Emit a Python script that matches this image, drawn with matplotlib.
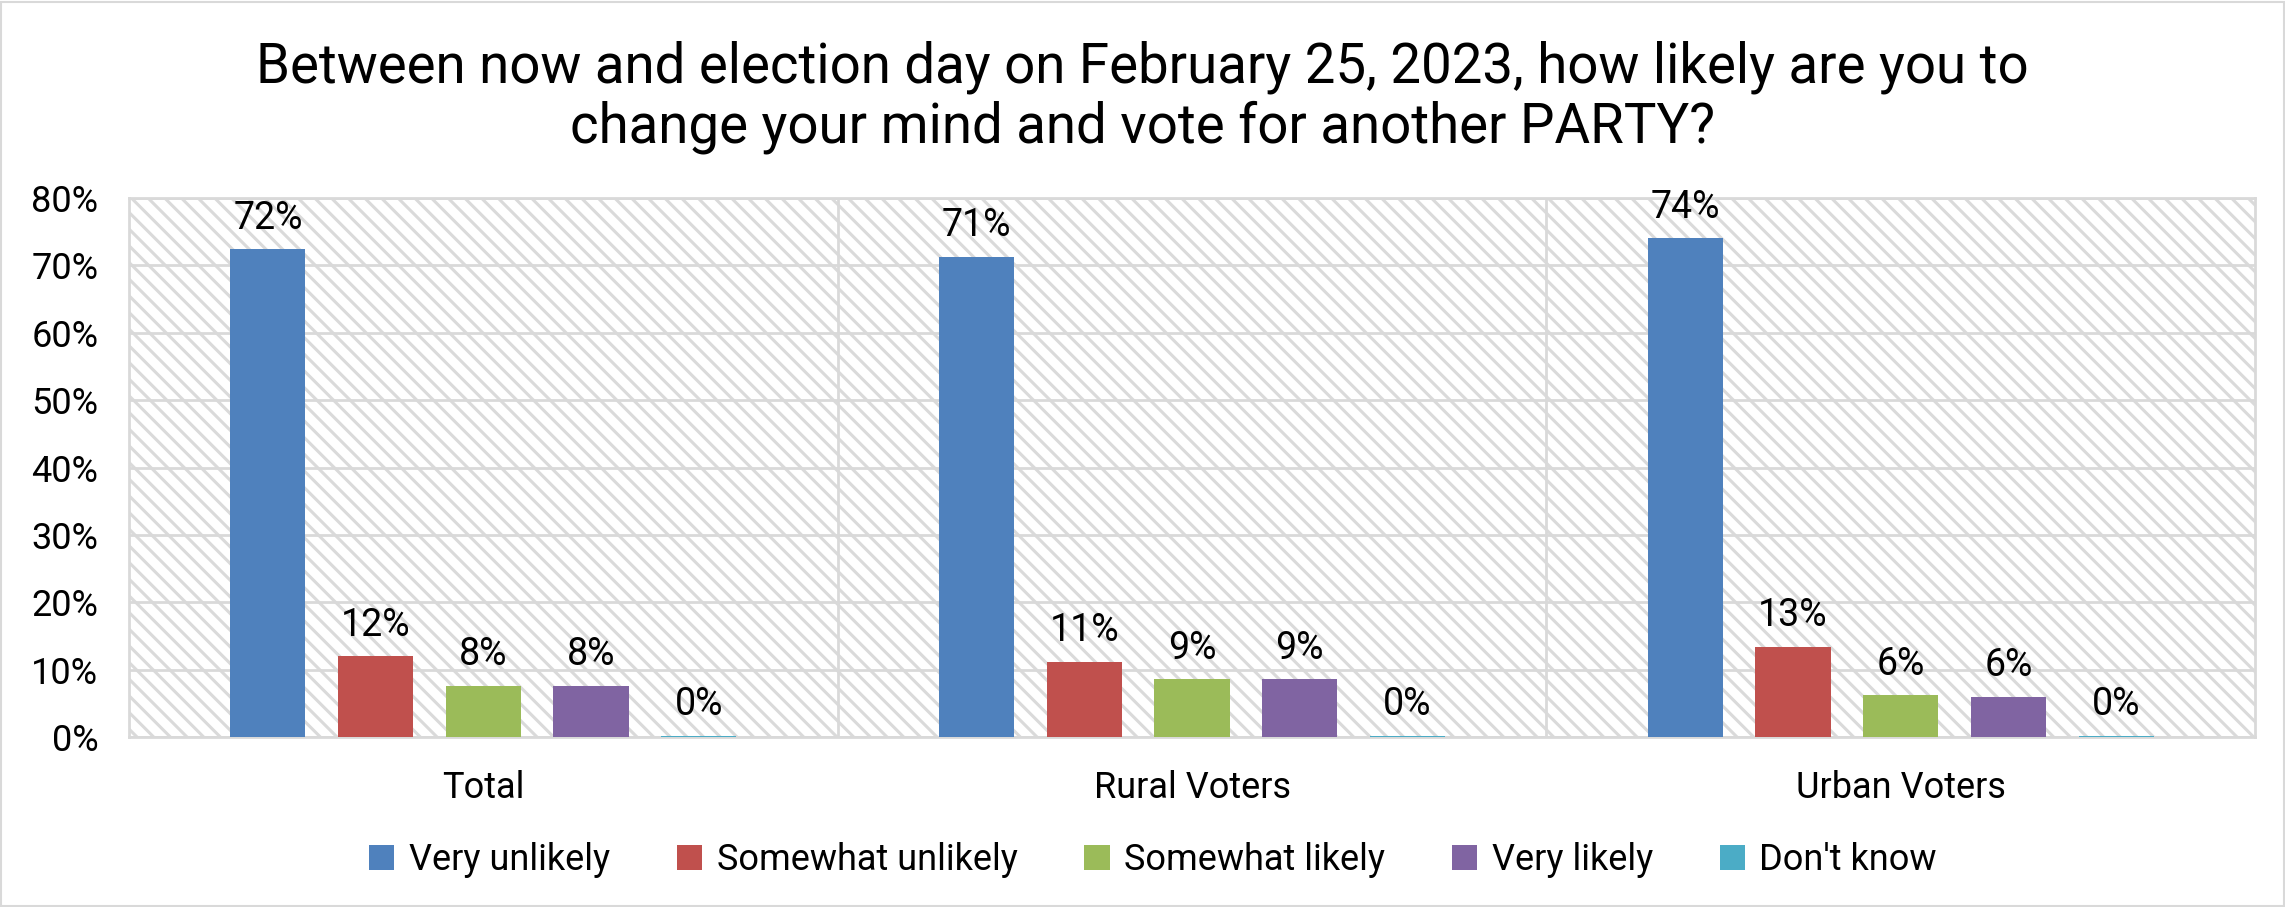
import matplotlib
matplotlib.use("Agg")
import matplotlib.pyplot as plt
import numpy as np
from matplotlib.patches import Rectangle
from matplotlib.ticker import PercentFormatter

plt.rcParams['font.family'] = ['Roboto', 'DejaVu Sans']
plt.rcParams['hatch.color'] = '#dadada'
plt.rcParams['hatch.linewidth'] = 2.2

categories = ["Total", "Rural Voters", "Urban Voters"]
series = ["Very unlikely", "Somewhat unlikely", "Somewhat likely", "Very likely", "Don't know"]
very_unlikely = [72.4, 71.3, 74.0]
somewhat_unlikely = [12.0, 11.2, 13.4]
somewhat_likely = [7.6, 8.6, 6.2]
very_likely = [7.6, 8.6, 6.0]
dont_know = [0.2, 0.2, 0.2]
colors = ["#4F81BD", "#C0504D", "#9BBB59", "#8064A2", "#4BACC6"]

title = ("Between now and election day on February 25, 2023, how likely are you to\n"
         "change your mind and vote for another PARTY?")

fig = plt.figure(figsize=(22.85, 9.07), dpi=100)
ax = fig.add_axes([129 / 2285, 1 - 737 / 907, 2126 / 2285, 539 / 907])

# hatched plot background
ax.add_patch(Rectangle((0, 0), 1, 1, transform=ax.transAxes, facecolor='white',
                       hatch='\\\\', linewidth=0, zorder=0))

x = np.arange(len(categories))
pitch = 0.152
width = 0.106
all_vals = [very_unlikely, somewhat_unlikely, somewhat_likely, very_likely, dont_know]
for i, (name, vals, c) in enumerate(zip(series, all_vals, colors)):
    pos = x + (i - 2) * pitch
    bars = ax.bar(pos, vals, width, color=c, label=name, zorder=3)
    for b, v in zip(bars, vals):
        ax.annotate(f"{round(v)}%", (b.get_x() + b.get_width() / 2, v),
                    xytext=(0, 9), textcoords='offset points',
                    ha='center', va='bottom', fontsize=27, zorder=4)

ax.set_xlim(-0.5, 2.5)
ax.set_ylim(0, 80)
ax.set_yticks(np.arange(0, 81, 10))
ax.yaxis.set_major_formatter(PercentFormatter(decimals=0))
ax.set_xticks(x)
ax.set_xticklabels(categories)
ax.set_xticks([0.5, 1.5], minor=True)
ax.tick_params(axis='both', which='both', length=0, labelsize=26)
ax.tick_params(axis='y', pad=22)
ax.tick_params(axis='x', pad=24)
ax.grid(axis='y', which='major', color='#d9d9d9', linewidth=2, zorder=1)
ax.grid(axis='x', which='minor', color='#d9d9d9', linewidth=2, zorder=1)
ax.set_axisbelow(True)
for s in ax.spines.values():
    s.set_color('#d9d9d9')
    s.set_linewidth(2)

fig.text(0.5, 1 - 97 / 907, title, fontsize=39.3, ha='center', va='center',
         linespacing=1.15)

fig.legend(loc='center', bbox_to_anchor=(1153 / 2285, 1 - 860 / 907), ncol=5,
           frameon=False, fontsize=26, handlelength=0.7, handleheight=0.7,
           handletextpad=0.4, columnspacing=1.85)

fig.add_artist(Rectangle((0.0005, 0.001), 0.999, 0.997, transform=fig.transFigure,
                         fill=False, edgecolor='#d9d9d9', linewidth=1.5))

fig.savefig("out.png", dpi=100)
